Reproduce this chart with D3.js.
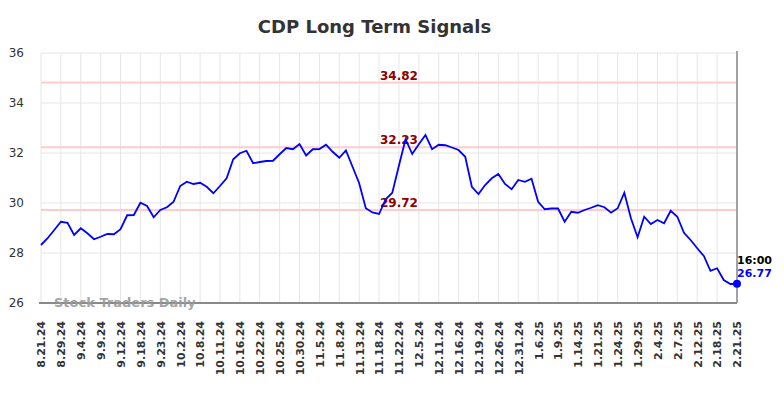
<!DOCTYPE html>
<html>
<head>
<meta charset="utf-8">
<script src="https://cdn.jsdelivr.net/npm/d3@7"></script>
<style>
body { margin: 0; background: #fff; }
text { font-family: "DejaVu Sans", sans-serif; }
</style>
</head>
<body>
<div id="screen"></div>
<script>
//tick labels on the x axis, one every 3 points
var dateLabels = ["8.21.24","8.29.24","9.4.24","9.9.24","9.12.24","9.18.24","9.23.24","10.2.24","10.8.24",
    "10.11.24","10.16.24","10.22.24","10.25.24","10.30.24","11.5.24","11.8.24","11.13.24","11.18.24",
    "11.22.24","12.5.24","12.11.24","12.16.24","12.19.24","12.26.24","12.31.24","1.6.25","1.9.25",
    "1.14.25","1.21.25","1.24.25","1.29.25","2.4.25","2.7.25","2.12.25","2.18.25","2.21.25"]

//closing prices
var prices = [28.32,28.59,28.92,29.25,29.21,28.72,28.99,28.79,28.55,28.65,
    28.76,28.75,28.95,29.51,29.52,30.01,29.88,29.43,29.72,29.83,
    30.05,30.68,30.85,30.76,30.81,30.65,30.39,30.68,30.99,31.75,
    31.99,32.09,31.59,31.64,31.68,31.69,31.95,32.2,32.15,32.36,
    31.9,32.15,32.16,32.33,32.05,31.81,32.1,31.45,30.79,29.79,
    29.62,29.56,30.15,30.41,31.5,32.55,31.96,32.35,32.72,32.15,
    32.33,32.31,32.22,32.12,31.85,30.65,30.36,30.72,30.99,31.16,
    30.76,30.55,30.92,30.85,30.97,30.05,29.75,29.78,29.78,29.25,
    29.65,29.61,29.72,29.81,29.91,29.83,29.61,29.79,30.41,29.39,
    28.63,29.45,29.16,29.32,29.19,29.69,29.45,28.81,28.52,28.19,
    27.88,27.29,27.39,26.92,26.76,26.77]

//signal levels
var signals = [34.82, 32.23, 29.72]

//y ticks
var yTicks = [26, 28, 30, 32, 34, 36]

var lastTime = "16:00"

var BGWIDTH = 784;
var BGHEIGHT = 398;

//plot box (dont call it top, window.top is taken)
var plotLeft = 41, plotRight = 737, plotTop = 53, plotBottom = 303;

function render(){
    var svg = d3.select("#screen")
        .append("svg")
        .attr("width", BGWIDTH)
        .attr("height", BGHEIGHT);

    var x = d3.scaleLinear().domain([0, prices.length - 1]).range([plotLeft, plotRight]);
    var y = d3.scaleLinear().domain([26, 36]).range([plotBottom, plotTop]);

    //title
    svg.append("text")
        .attr("x", 374.5)
        .attr("y", 33)
        .attr("text-anchor", "middle")
        .attr("font-size", 18)
        .attr("font-weight", "bold")
        .attr("fill", "#333")
        .text("CDP Long Term Signals");

    //grid, vertical
    var tickIdx = dateLabels.map((d, i) => i * 3);
    svg.selectAll(".vgrid")
        .data(tickIdx)
        .enter()
        .append("line")
        .attr("x1", d => x(d))
        .attr("x2", d => x(d))
        .attr("y1", plotTop)
        .attr("y2", plotBottom)
        .attr("stroke", "#e6e6e6")
        .attr("stroke-width", 1);

    //grid, horizontal
    svg.selectAll(".hgrid")
        .data(yTicks)
        .enter()
        .append("line")
        .attr("x1", plotLeft)
        .attr("x2", plotRight)
        .attr("y1", d => y(d))
        .attr("y2", d => y(d))
        .attr("stroke", "#e6e6e6")
        .attr("stroke-width", 1);

    //y axis labels
    var yAxis = d3.axisLeft(y).tickValues(yTicks).tickSize(0).tickPadding(17);
    var ya = svg.append("g").attr("transform", "translate(" + plotLeft + ",0)").call(yAxis);
    ya.select(".domain").remove();
    ya.selectAll("text").attr("font-size", 12).attr("fill", "#333")
        .attr("font-family", "DejaVu Sans");

    //x axis labels
    var xAxis = d3.axisBottom(x).tickValues(tickIdx).tickSize(0)
        .tickFormat((d, i) => dateLabels[i]);
    var xa = svg.append("g").attr("transform", "translate(0," + plotBottom + ")").call(xAxis);
    xa.select(".domain").remove();
    xa.selectAll("text")
        .attr("font-size", 11)
        .attr("font-weight", "bold")
        .attr("font-family", "DejaVu Sans")
        .attr("fill", "#333")
        .attr("text-anchor", "end")
        .attr("transform", "translate(0,18) rotate(-90)")
        .attr("x", 0)
        .attr("y", 0)
        .attr("dy", "0.35em");

    //signal lines
    svg.selectAll(".sig")
        .data(signals)
        .enter()
        .append("line")
        .attr("x1", plotLeft)
        .attr("x2", plotRight)
        .attr("y1", d => y(d))
        .attr("y2", d => y(d))
        .attr("stroke", "#ffcccc")
        .attr("stroke-width", 2);

    svg.selectAll(".siglabel")
        .data(signals)
        .enter()
        .append("text")
        .attr("x", x(54))
        .attr("y", d => y(d) - 3)
        .attr("text-anchor", "middle")
        .attr("font-size", 12)
        .attr("font-weight", "bold")
        .attr("fill", "#8b0000")
        .text(d => d.toFixed(2));

    //bottom axis line and right edge
    svg.append("line")
        .attr("x1", plotLeft - 2).attr("x2", plotRight)
        .attr("y1", plotBottom).attr("y2", plotBottom)
        .attr("stroke", "#666").attr("stroke-width", 1.5);
    svg.append("line")
        .attr("x1", plotRight).attr("x2", plotRight)
        .attr("y1", plotTop - 2).attr("y2", plotBottom)
        .attr("stroke", "#888").attr("stroke-width", 1.5);

    //watermark
    svg.append("text")
        .attr("x", 54)
        .attr("y", 307)
        .attr("font-size", 13)
        .attr("font-weight", "bold")
        .attr("fill", "#999")
        .attr("fill-opacity", 0.9)
        .text("Stock Traders Daily");

    //price line
    var line = d3.line()
        .x((d, i) => x(i))
        .y(d => y(d));
    svg.append("path")
        .datum(prices)
        .attr("d", line)
        .attr("fill", "none")
        .attr("stroke", "#0000ff")
        .attr("stroke-width", 1.8);

    //last point
    var last = prices.length - 1;
    svg.append("circle")
        .attr("cx", x(last))
        .attr("cy", y(prices[last]))
        .attr("r", 4)
        .attr("fill", "#0000ff");

    svg.append("text")
        .attr("x", x(last))
        .attr("y", 264)
        .attr("font-size", 11)
        .attr("font-weight", "bold")
        .attr("fill", "#000")
        .text(lastTime);
    svg.append("text")
        .attr("x", x(last))
        .attr("y", 277)
        .attr("font-size", 11)
        .attr("font-weight", "bold")
        .attr("fill", "#0000ff")
        .text(prices[last].toFixed(2));
}

render();
</script>
</body>
</html>
